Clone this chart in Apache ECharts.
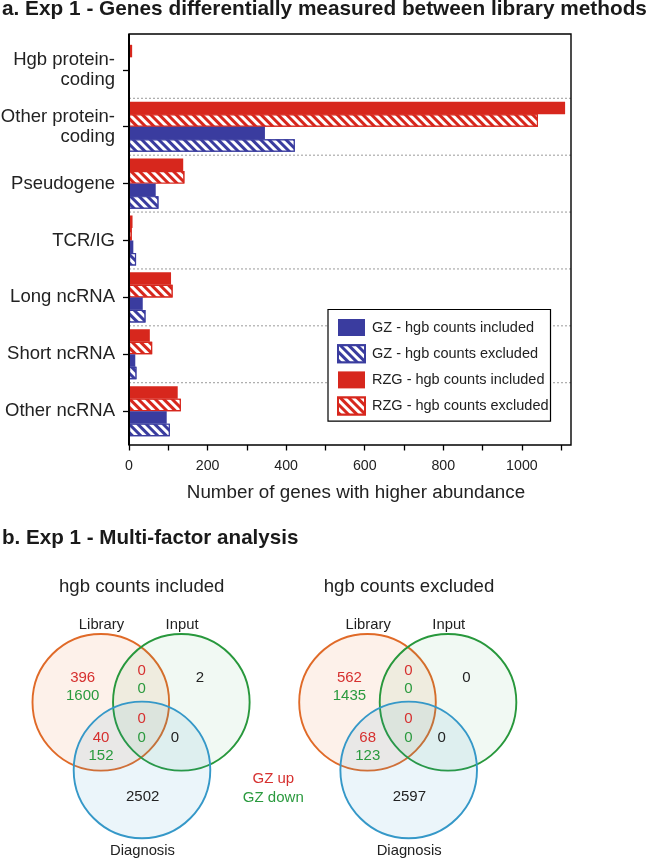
<!DOCTYPE html>
<html>
<head>
<meta charset="utf-8">
<script src="https://cdn.jsdelivr.net/npm/echarts@6/dist/echarts.min.js"></script>
<style>html,body{margin:0;padding:0;background:#fff}#c{width:648px;height:860px}</style>
</head>
<body>
<div id="c"></div>
<script>
// ---------- DATA ----------
const categories = ['Hgb protein-\ncoding', 'Other protein-\ncoding', 'Pseudogene', 'TCR/IG', 'Long ncRNA', 'Short ncRNA', 'Other ncRNA'];
const rzgIncluded = [8, 1110, 138, 9, 107, 53, 124];
const rzgExcluded = [0, 1041, 141, 7, 111, 59, 132];
const gzIncluded  = [0, 346, 68, 11, 35, 16, 96];
const gzExcluded  = [0, 422, 75, 18, 42, 19, 104];
const xTickLabels = [0, 200, 400, 600, 800, 1000];
const xTickMarks  = [0, 100, 200, 300, 400, 500, 600, 700, 800, 900, 1000, 1100];

const vennSets = ['Library', 'Input', 'Diagnosis'];
// regions: Library only, Library∩Input, Input only, all three, Library∩Diagnosis, Input∩Diagnosis, Diagnosis only
const includedUp   = [396, 0, null, 0, 40, null, null];
const includedDown = [1600, 0, null, 0, 152, null, null];
const includedAll  = [null, null, 2, null, null, 0, 2502];
const excludedUp   = [562, 0, null, 0, 68, null, null];
const excludedDown = [1435, 0, null, 0, 123, null, null];
const excludedAll  = [null, null, 0, null, null, 0, 2597];

// ---------- STYLE / LAYOUT ----------
const FONT = '"Liberation Sans", Arial, Helvetica, sans-serif';
const RED = '#d7271d', BLUE = '#3a3c9f';
const TXT = '#222';
const UP = '#d6302f', DOWN = '#2a9a3e';
const setStroke = ['#e06a28', '#28983c', '#3598c8'];
const setFill = ['rgba(236,128,60,0.11)', 'rgba(60,170,80,0.07)', 'rgba(58,156,204,0.10)'];
// venn layout in unit radii
const setCenters = [[0, 0], [1.179, 0], [0.603, -0.99]];
const setLabelPos = [[0.01, 1.13], [1.19, 1.13], [0.61, -2.18]];
const regionPos = [[-0.265, 0.23], [0.6, 0.33], [1.45, 0.36], [0.6, -0.38], [0.003, -0.65], [1.086, -0.52], [0.613, -1.38]];
const vennUnit = 68.3;
const vxMin = -1.4, vxMax = 2.6, vyMin = -2.2, vyMax = 1.5;

function hatch() {
  return { symbol: 'rect', symbolSize: 1, color: '#ffffff', dashArrayX: [1, 0], dashArrayY: [2.4, 2.6], rotation: Math.PI / 4 };
}
function barData(arr, bordered) {
  return arr.map(v => (v === 0 && bordered) ? { value: 0, itemStyle: { borderWidth: 0 } } : v);
}

const chart = echarts.init(document.getElementById('c'), null, { renderer: 'canvas' });

function vennSeries(gridIdx, up, down, all) {
  const ax = gridIdx;
  return [
    {
      type: 'scatter', xAxisIndex: ax, yAxisIndex: ax, silent: true, z: 2,
      symbol: 'circle', symbolSize: vennUnit * 2,
      data: vennSets.map((s, i) => ({
        name: s, value: setCenters[i],
        itemStyle: { color: setFill[i], borderColor: setStroke[i], borderWidth: 1.9, opacity: 1 }
      }))
    },
    {
      type: 'scatter', xAxisIndex: ax, yAxisIndex: ax, silent: true, z: 3,
      symbolSize: 1, itemStyle: { color: 'rgba(0,0,0,0)', opacity: 1 },
      data: vennSets.map((s, i) => ({ name: s, value: setLabelPos[i] })),
      label: { show: true, position: 'inside', formatter: p => p.name, color: TXT, fontSize: 14.8, fontFamily: FONT }
    },
    {
      type: 'scatter', xAxisIndex: ax, yAxisIndex: ax, silent: true, z: 3,
      symbolSize: 1, itemStyle: { color: 'rgba(0,0,0,0)', opacity: 1 },
      data: regionPos.map((p, i) => ({
        value: p,
        txt: all[i] !== null ? '{n|' + all[i] + '}' : '{u|' + up[i] + '}\n{d|' + down[i] + '}'
      })),
      label: {
        show: true, position: 'inside', fontFamily: FONT, fontSize: 15, lineHeight: 18.4,
        formatter: p => p.data.txt,
        rich: {
          u: { color: UP, fontSize: 15, lineHeight: 18.4, fontFamily: FONT },
          d: { color: DOWN, fontSize: 15, lineHeight: 18.4, fontFamily: FONT },
          n: { color: TXT, fontSize: 15, lineHeight: 18.4, fontFamily: FONT }
        }
      }
    }
  ];
}

const vennLeft0 = 100.8 - (0 - vxMin) * vennUnit;
const vennTop = 702.3 - (vyMax - 0) * vennUnit;
const vennW = (vxMax - vxMin) * vennUnit, vennH = (vyMax - vyMin) * vennUnit;
const vennShift = 266.7;

function vennAxes(gridIdx) {
  return {
    x: { type: 'value', gridIndex: gridIdx, min: vxMin, max: vxMax, show: false },
    y: { type: 'value', gridIndex: gridIdx, min: vyMin, max: vyMax, show: false }
  };
}
const va1 = vennAxes(1), va2 = vennAxes(2);

const option = {
  backgroundColor: '#fff',
  animation: false,
  title: [
    { text: 'a. Exp 1 - Genes differentially measured between library methods', left: 2, top: -1, padding: 0,
      textStyle: { fontFamily: FONT, fontWeight: 'bold', fontSize: 20.8, color: '#1a1a1a' } },
    { text: 'b. Exp 1 - Multi-factor analysis', left: 2, top: 528, padding: 0,
      textStyle: { fontFamily: FONT, fontWeight: 'bold', fontSize: 20.6, color: '#1a1a1a' } }
  ],
  legend: {
    orient: 'vertical', left: 328, top: 309.5,
    padding: [9.5, 2, 5.5, 9], itemGap: 8.2, itemWidth: 27, itemHeight: 17,
    borderColor: '#000', borderWidth: 1.2, backgroundColor: '#fff',
    icon: 'rect',
    textStyle: { fontFamily: FONT, fontSize: 14.5, color: TXT, padding: [0, 0, 0, 2] },
    data: ['GZ - hgb counts included', 'GZ - hgb counts excluded', 'RZG - hgb counts included', 'RZG - hgb counts excluded'],
    z: 10
  },
  grid: [
    { left: 129, right: 77, top: 41.4, height: 398.2, outerBoundsMode: 'none', containLabel: false },
    { left: vennLeft0, top: vennTop, width: vennW, height: vennH, outerBoundsMode: 'none' },
    { left: vennLeft0 + vennShift, top: vennTop, width: vennW, height: vennH, outerBoundsMode: 'none' }
  ],
  xAxis: [
    {
      type: 'value', gridIndex: 0, min: 0, max: 1125, interval: 100, offset: 5.4,
      axisLine: { show: false },
      axisTick: { show: true, length: 5.5, customValues: xTickMarks, lineStyle: { color: '#000', width: 1.3 } },
      axisLabel: {
        fontFamily: FONT, fontSize: 14.2, color: TXT, margin: 14, customValues: xTickLabels,
        formatter: v => (xTickLabels.indexOf(v) >= 0 ? String(v) : '')
      },
      splitLine: { show: false },
      name: 'Number of genes with higher abundance', nameLocation: 'middle', nameGap: 38,
      nameTextStyle: { fontFamily: FONT, fontSize: 18.8, color: TXT, padding: [0, 0, 0, 12] }
    },
    va1.x, va2.x
  ],
  yAxis: [
    {
      type: 'category', gridIndex: 0, inverse: true, data: categories,
      axisLine: { show: false },
      axisTick: { show: true, alignWithLabel: true, length: 6, lineStyle: { color: '#000', width: 1.3 } },
      axisLabel: { fontFamily: FONT, fontSize: 18.5, color: TXT, margin: 14, lineHeight: 20, align: 'right' },
      splitLine: { show: false }
    },
    va1.y, va2.y
  ],
  graphic: [
    { type: 'rect', shape: { x: 129, y: 34, width: 442, height: 411 }, style: { fill: 'none', stroke: '#000', lineWidth: 1.4 }, z: 50, silent: true },
    { type: 'line', shape: { x1: 129, y1: 34, x2: 129, y2: 445 }, style: { stroke: '#000', lineWidth: 2 }, z: 51, silent: true },
    { type: 'text', x: 141.7, y: 587.3, style: { text: 'hgb counts included', textAlign: 'center', textVerticalAlign: 'middle', fill: TXT, font: '18.6px ' + FONT }, silent: true },
    { type: 'text', x: 409, y: 587.3, style: { text: 'hgb counts excluded', textAlign: 'center', textVerticalAlign: 'middle', fill: TXT, font: '18.6px ' + FONT }, silent: true },
    { type: 'text', x: 273.3, y: 788.5, style: { text: '{u|GZ up}\n{d|GZ down}', textAlign: 'center', textVerticalAlign: 'middle',
      rich: { u: { fill: UP, fontSize: 15, lineHeight: 18.4, fontFamily: FONT }, d: { fill: DOWN, fontSize: 15, lineHeight: 18.4, fontFamily: FONT } } }, silent: true }
  ],
  series: [
    {
      type: 'custom', xAxisIndex: 0, yAxisIndex: 0, silent: true, z: 1,
      encode: { x: 0, y: 1 },
      data: categories.slice(1).map((c, i) => [0, i + 1]),
      renderItem: function (params, api) {
        const idx = api.value(1);
        const y = (api.coord([0, idx])[1] + api.coord([0, idx - 1])[1]) / 2;
        const cs = params.coordSys;
        return { type: 'line', shape: { x1: cs.x, y1: y, x2: cs.x + cs.width, y2: y },
          style: { stroke: '#9a9a9a', lineWidth: 1, lineDash: [2, 2] } };
      }
    },
    { name: 'RZG - hgb counts included', type: 'bar', xAxisIndex: 0, yAxisIndex: 0, data: barData(rzgIncluded, false),
      barGap: '0%', barCategoryGap: '12%', itemStyle: { color: RED } },
    { name: 'RZG - hgb counts excluded', type: 'bar', xAxisIndex: 0, yAxisIndex: 0, data: barData(rzgExcluded, true),
      itemStyle: { color: RED, borderColor: RED, borderWidth: 1.2, decal: hatch() } },
    { name: 'GZ - hgb counts included', type: 'bar', xAxisIndex: 0, yAxisIndex: 0, data: barData(gzIncluded, false),
      itemStyle: { color: BLUE } },
    { name: 'GZ - hgb counts excluded', type: 'bar', xAxisIndex: 0, yAxisIndex: 0, data: barData(gzExcluded, true),
      itemStyle: { color: BLUE, borderColor: BLUE, borderWidth: 1.2, decal: hatch() } }
  ].concat(vennSeries(1, includedUp, includedDown, includedAll))
   .concat(vennSeries(2, excludedUp, excludedDown, excludedAll))
};
chart.setOption(option);
</script>
</body>
</html>
